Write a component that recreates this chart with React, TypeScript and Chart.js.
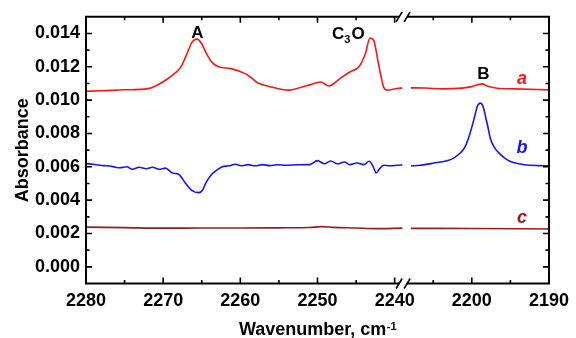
import React, { useEffect, useRef } from "react";
import { Chart, registerables } from "chart.js";

Chart.register(...registerables);

const FONT = "'Liberation Sans', Arial, Helvetica, sans-serif";

// ---- axis definition (broken x axis) ----
const X_TICKS = [2280, 2270, 2260, 2250, 2240, 2200, 2190];
const X_MINOR = [2275, 2265, 2255, 2245, 2205, 2195];
const Y_TICKS = [0, 0.002, 0.004, 0.006, 0.008, 0.01, 0.012, 0.014];
const Y_MINOR = [0.001, 0.003, 0.005, 0.007, 0.009, 0.011, 0.013];
const Y_MIN = -0.001;
const Y_MAX = 0.015;
const LEFT_END = 2239; // left segment: 2280 .. 2239
const RIGHT_START = 2208; // right segment: 2208 .. 2190
const BREAK_POS = 41.1;

// map wavenumber to position on the broken axis
const toU = (w: number) => (w >= LEFT_END ? 2280 - w : 50 + (2200 - w));

// ---- series a (red) ----
const redWnL = [2280, 2278, 2275, 2272.5, 2271.5, 2270.1, 2268.8, 2267.7, 2266.9, 2266.3, 2265.6, 2265.0, 2264.4, 2263.7, 2262.8, 2261.2, 2259.4, 2258.7, 2257.7, 2256.0, 2253.8, 2252.2, 2250.9, 2249.6, 2248.5, 2247.1, 2245.8, 2244.6, 2243.8, 2243.2, 2242.7, 2242.1, 2241.4, 2241.0, 2239.7, 2239.0];
const redL = [0.01053, 0.01056, 0.01062, 0.01066, 0.01075, 0.01107, 0.0115, 0.0120, 0.0128, 0.01345, 0.01366, 0.01338, 0.0128, 0.01228, 0.0120, 0.01189, 0.01159, 0.01139, 0.01103, 0.01079, 0.0106, 0.01076, 0.01093, 0.01109, 0.01085, 0.01129, 0.01169, 0.01202, 0.01278, 0.01373, 0.01357, 0.01218, 0.01075, 0.0106, 0.0107, 0.01073];
const redWnR = [2207.9, 2206, 2203.8, 2201.3, 2200, 2199.2, 2198.7, 2197.9, 2196.7, 2194.5, 2190];
const redR = [0.010735, 0.01073, 0.010675, 0.01072, 0.01081, 0.01093, 0.010975, 0.01083, 0.01071, 0.010675, 0.010616];

// ---- series b (blue) ----
const blueWnL = [2279.9, 2279.1, 2278.2, 2277.3, 2276.5, 2275.6, 2274.7, 2274.0, 2273.1, 2272.2, 2271.4, 2270.5, 2269.7, 2268.8, 2268.0, 2267.1, 2266.3, 2265.4, 2264.9, 2264.5, 2263.7, 2263.1, 2262.4, 2261.5, 2260.6, 2259.9, 2259.0, 2258.1, 2257.1, 2256.2, 2255.2, 2254.0, 2252.7, 2251.0, 2250.0, 2249.1, 2248.3, 2247.4, 2246.5, 2245.8, 2244.9, 2244.0, 2243.3, 2242.8, 2242.4, 2241.9, 2241.4, 2240.6, 2239.7, 2239.0];
const blueL = [0.00619, 0.00615, 0.00609, 0.00606, 0.00601, 0.00594, 0.006, 0.00585, 0.00597, 0.00588, 0.00597, 0.00585, 0.00592, 0.00563, 0.00555, 0.00501, 0.00459, 0.00445, 0.00459, 0.00501, 0.00555, 0.00579, 0.00599, 0.00606, 0.00615, 0.00606, 0.00613, 0.00606, 0.00613, 0.00607, 0.00612, 0.00609, 0.00612, 0.00613, 0.00637, 0.00618, 0.00635, 0.00618, 0.00629, 0.00613, 0.00623, 0.00613, 0.00633, 0.00603, 0.00563, 0.00591, 0.00609, 0.00606, 0.00609, 0.00612];
const blueWnR = [2207.9, 2206.7, 2204.7, 2203.2, 2202.2, 2201.4, 2200.9, 2200.4, 2200.0, 2199.6, 2199.3, 2198.9, 2198.5, 2198.2, 2197.9, 2197.6, 2197.1, 2196.3, 2195.4, 2194.5, 2193.2, 2191.3, 2190.0];
const blueR = [0.00606, 0.00609, 0.00624, 0.00636, 0.00657, 0.00687, 0.00718, 0.00776, 0.00838, 0.00908, 0.00962, 0.00982, 0.00956, 0.00896, 0.00836, 0.0077, 0.00718, 0.00675, 0.00642, 0.00624, 0.00612, 0.00607, 0.00606];

// ---- series c (dark red) ----
const brownWnL = [2280, 2275, 2270, 2265, 2260, 2255, 2251, 2249.5, 2248, 2245, 2242.5, 2239];
const brownL = [0.00238, 0.00235, 0.00232, 0.00233, 0.00233, 0.00234, 0.00236, 0.00241, 0.00237, 0.00233, 0.00229, 0.00232];
const brownWnR = [2207.9, 2200, 2190];
const brownR = [0.00231, 0.0023, 0.00227];

// ---- annotations: [text, wavenumber, absorbance(baseline)] ----
const PEAK_LABELS: [string, number, number][] = [
  ["A", 2265.55, 0.01374],
  ["B", 2198.5, 0.01129],
];
const C3O_POS = [2246.0, 0.01367];
const CURVE_LABELS: [string, number, number][] = [
  ["a", 2193.5, 0.01099],
  ["b", 2193.5, 0.00681],
  ["c", 2193.5, 0.00262],
];

const COLORS = { a: "#ff1414", b: "#1414ff", c: "#981c1c" };

function build(wl: number[], vl: number[], wr: number[], vr: number[]) {
  const pts: { x: number; y: number | null }[] = wl.map((w, i) => ({ x: toU(w), y: vl[i] }));
  pts.push({ x: BREAK_POS + 0.4, y: null });
  wr.forEach((w, i) => pts.push({ x: toU(w), y: vr[i] }));
  return pts;
}

const framePlugin = {
  id: "frame",
  afterDraw(chart: any) {
    const ctx = chart.ctx;
    const { left, right, top, bottom } = chart.chartArea;
    const xs = chart.scales.x;
    const ys = chart.scales.y;
    ctx.save();
    ctx.strokeStyle = "#000";
    ctx.lineCap = "butt";
    // frame
    const bx = xs.getPixelForValue(BREAK_POS);
    ctx.lineWidth = 2;
    ctx.beginPath();
    ctx.moveTo(left, top - 1);
    ctx.lineTo(left, bottom + 1);
    ctx.moveTo(right, top - 1);
    ctx.lineTo(right, bottom + 1);
    for (const y of [top, bottom]) {
      ctx.moveTo(left, y);
      ctx.lineTo(bx - 4, y);
      ctx.moveTo(bx + 4, y);
      ctx.lineTo(right, y);
    }
    ctx.stroke();
    // break marks
    ctx.lineWidth = 1.6;
    ctx.beginPath();
    for (const y of [top, bottom]) {
      for (const cx of [bx - 4, bx + 4]) {
        ctx.moveTo(cx - 3, y + 5);
        ctx.lineTo(cx + 3, y - 5);
      }
    }
    ctx.stroke();
    // ticks
    ctx.lineWidth = 1.6;
    ctx.beginPath();
    const xTick = (w: number, len: number) => {
      const px = xs.getPixelForValue(toU(w));
      ctx.moveTo(px, top);
      ctx.lineTo(px, top + len);
      ctx.moveTo(px, bottom);
      ctx.lineTo(px, bottom - len);
    };
    const yTick = (v: number, len: number) => {
      const py = ys.getPixelForValue(v);
      ctx.moveTo(left, py);
      ctx.lineTo(left + len, py);
      ctx.moveTo(right, py);
      ctx.lineTo(right - len, py);
    };
    X_TICKS.forEach((w) => xTick(w, 6));
    X_MINOR.forEach((w) => xTick(w, 3.5));
    Y_TICKS.forEach((v) => yTick(v, 6));
    Y_MINOR.forEach((v) => yTick(v, 3.5));
    ctx.stroke();

    // axis titles
    ctx.fillStyle = "#000";
    ctx.font = `bold 18px ${FONT}`;
    ctx.textBaseline = "alphabetic";
    ctx.textAlign = "center";
    ctx.save();
    ctx.translate(28, (top + bottom) / 2);
    ctx.rotate(-Math.PI / 2);
    ctx.fillText("Absorbance", 0, 0);
    ctx.restore();

    const main = "Wavenumber, cm";
    const sup = "-1";
    ctx.font = `bold 18px ${FONT}`;
    const mw = ctx.measureText(main).width;
    ctx.font = `bold 11px ${FONT}`;
    const sw = ctx.measureText(sup).width;
    const startX = (left + right) / 2 - (mw + sw) / 2;
    ctx.textAlign = "left";
    ctx.font = `bold 18px ${FONT}`;
    ctx.fillText(main, startX, 335);
    ctx.font = `bold 11px ${FONT}`;
    ctx.fillText(sup, startX + mw + 0.5, 330);

    // peak labels
    ctx.textAlign = "center";
    ctx.font = `bold 17px ${FONT}`;
    PEAK_LABELS.forEach(([t, w, v]) => {
      ctx.fillText(t, xs.getPixelForValue(toU(w)), ys.getPixelForValue(v));
    });
    // C3O with subscript
    {
      const cx = xs.getPixelForValue(toU(C3O_POS[0]));
      const cy = ys.getPixelForValue(C3O_POS[1]);
      ctx.font = `bold 17px ${FONT}`;
      const wC = ctx.measureText("C").width;
      const wO = ctx.measureText("O").width;
      ctx.font = `bold 11px ${FONT}`;
      const w3 = ctx.measureText("3").width;
      let x0 = cx - (wC + w3 + wO + 1) / 2;
      ctx.textAlign = "left";
      ctx.font = `bold 17px ${FONT}`;
      ctx.fillText("C", x0, cy);
      ctx.font = `bold 11px ${FONT}`;
      ctx.fillText("3", x0 + wC, cy + 4.5);
      ctx.font = `bold 17px ${FONT}`;
      ctx.fillText("O", x0 + wC + w3 + 1, cy);
    }
    // curve labels
    ctx.textAlign = "center";
    ctx.font = `italic bold 18px ${FONT}`;
    const cols = [COLORS.a, COLORS.b, COLORS.c];
    CURVE_LABELS.forEach(([t, w, v], i) => {
      ctx.fillStyle = cols[i];
      ctx.fillText(t, xs.getPixelForValue(toU(w)), ys.getPixelForValue(v));
    });
    ctx.restore();
  },
};

export default function App() {
  const ref = useRef<HTMLCanvasElement | null>(null);
  useEffect(() => {
    if (!ref.current) return;
    const tickFont = { family: FONT, size: 18, weight: "bold" as const };
    const chart = new Chart(ref.current, {
      type: "line",
      data: {
        datasets: [
          { label: "a", data: build(redWnL, redL, redWnR, redR), borderColor: COLORS.a },
          { label: "b", data: build(blueWnL, blueL, blueWnR, blueR), borderColor: COLORS.b },
          { label: "c", data: build(brownWnL, brownL, brownWnR, brownR), borderColor: COLORS.c },
        ] as any,
      },
      options: {
        animation: false,
        responsive: false,
        devicePixelRatio: 1,
        spanGaps: false,
        layout: { padding: { top: 16, right: 21, left: 0, bottom: 0 } },
        plugins: { legend: { display: false }, tooltip: { enabled: false } },
        elements: {
          point: { radius: 0 },
          line: { borderWidth: 1.6, cubicInterpolationMode: "monotone", fill: false },
        },
        scales: {
          x: {
            type: "linear",
            min: 0,
            max: 60,
            grid: { display: false, drawTicks: false },
            border: { display: false },
            afterBuildTicks: (s: any) => {
              s.ticks = X_TICKS.map((w) => ({ value: toU(w) }));
            },
            afterFit: (s: any) => {
              s.height = 54.5;
            },
            ticks: {
              autoSkip: false,
              maxRotation: 0,
              padding: 7,
              color: "#000",
              font: tickFont,
              callback: (_v: any, i: number) => String(X_TICKS[i]),
            },
          },
          y: {
            type: "linear",
            min: Y_MIN,
            max: Y_MAX,
            grid: { display: false, drawTicks: false },
            border: { display: false },
            afterBuildTicks: (s: any) => {
              s.ticks = Y_TICKS.map((v) => ({ value: v }));
            },
            afterFit: (s: any) => {
              s.width = 86;
            },
            ticks: {
              padding: 6,
              color: "#000",
              font: tickFont,
              callback: (v: any) => Number(v).toFixed(3),
            },
          },
        },
      } as any,
      plugins: [framePlugin],
    });
    return () => chart.destroy();
  }, []);
  return (
    <div style={{ position: "fixed", left: 0, top: 0, width: 576, height: 338, background: "#fff" }}>
      <canvas ref={ref} width={576} height={338} style={{ width: 576, height: 338, display: "block" }} />
    </div>
  );
}
